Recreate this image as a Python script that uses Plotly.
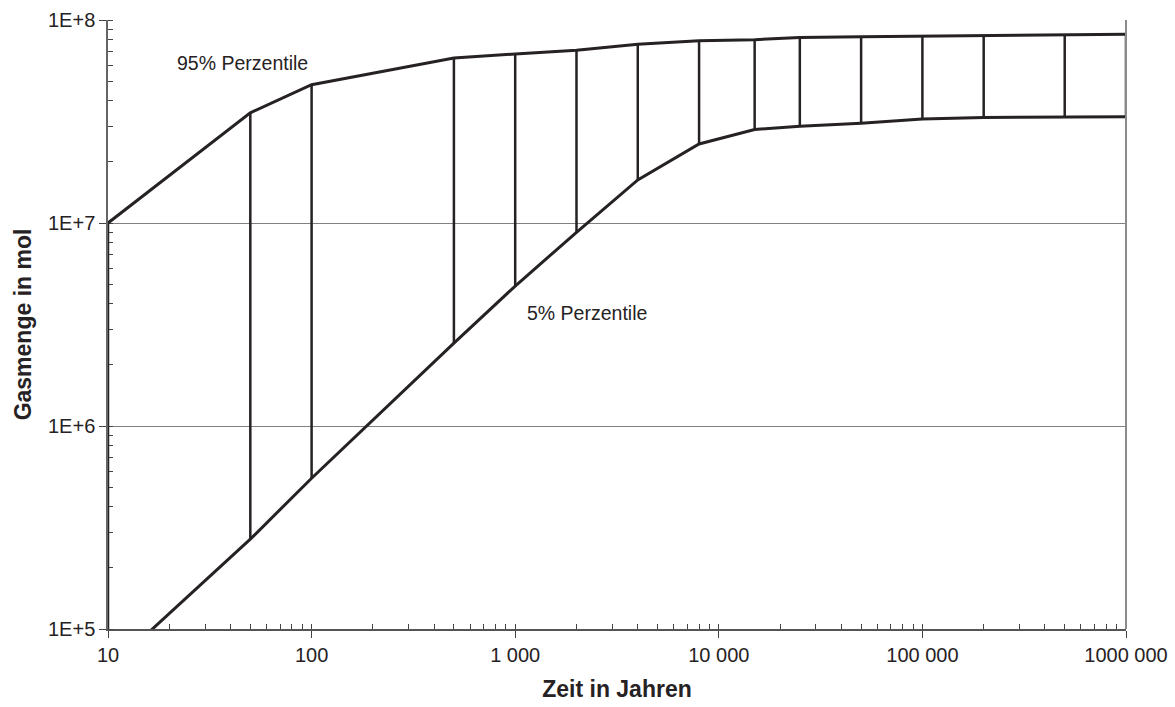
import plotly.graph_objects as go

# Zeit in Jahren
zeit = [10, 50, 100, 500, 1000, 2000, 4000, 8000, 15000, 25000, 50000,
        100000, 200000, 500000, 1000000]
# 95% Perzentile (mol)
p95 = [1.0e7, 3.49e7, 4.8e7, 6.5e7, 6.8e7, 7.1e7, 7.6e7, 7.9e7, 8.0e7,
       8.2e7, 8.28e7, 8.34e7, 8.4e7, 8.46e7, 8.5e7]
# 5% Perzentile (mol)
p5 = [6.3e4, 2.77e5, 5.53e5, 2.56e6, 4.89e6, 9.0e6, 1.63e7, 2.45e7, 2.89e7,
      3.0e7, 3.1e7, 3.25e7, 3.31e7, 3.34e7, 3.34e7]

x_tickvals = [10, 100, 1000, 10000, 100000, 1000000]
x_ticktext = ["10", "100", "1 000", "10 000", "100 000", "1000 000"]
y_tickvals = [1e5, 1e6, 1e7, 1e8]
y_ticktext = ["1E+5", "1E+6", "1E+7", "1E+8"]

INK = "#262223"
FONT = "Liberation Sans, Arial, Helvetica, sans-serif"

# vertical connectors between the percentiles
vx, vy = [], []
for x, lo, hi in zip(zeit, p5, p95):
    vx += [x, x, None]
    vy += [lo, hi, None]

fig = go.Figure()
fig.add_trace(go.Scatter(x=vx, y=vy, mode="lines",
                         line=dict(color=INK, width=2.5),
                         hoverinfo="skip", showlegend=False))
fig.add_trace(go.Scatter(x=zeit, y=p95, mode="lines", name="95% Perzentile",
                         line=dict(color=INK, width=3), showlegend=False))
fig.add_trace(go.Scatter(x=zeit, y=p5, mode="lines", name="5% Perzentile",
                         line=dict(color=INK, width=3), showlegend=False))

fig.add_annotation(x=1.6616, y=7.787, xref="x", yref="y", text="95% Perzentile",
                   showarrow=False, font=dict(size=19.5, color=INK, family=FONT))
fig.add_annotation(x=3.355, y=6.556, xref="x", yref="y", text="5% Perzentile",
                   showarrow=False, font=dict(size=19.5, color=INK, family=FONT))

# right frame line
fig.add_shape(type="line", xref="paper", yref="paper", x0=1, x1=1, y0=0, y1=1,
              line=dict(color="#8a8a8a", width=2))

fig.update_xaxes(
    type="log", range=[1, 6],
    tickvals=x_tickvals, ticktext=x_ticktext,
    ticks="outside", ticklen=7, tickwidth=1.2, tickcolor="#444",
    minor=dict(ticks="inside", ticklen=5, tickwidth=1.2, tickcolor="#444",
               dtick="D1", showgrid=False),
    showline=True, linecolor="#555", linewidth=2,
    showgrid=False, zeroline=False,
    tickfont=dict(size=20, color=INK, family=FONT),
    title=dict(text="<b>Zeit in Jahren</b>", font=dict(size=23, color=INK, family=FONT),
               standoff=16),
    layer="below traces",
)
fig.update_yaxes(
    type="log", range=[5, 8],
    tickvals=y_tickvals, ticktext=y_ticktext,
    ticks="outside", ticklen=7, tickwidth=1.2, tickcolor="#444",
    minor=dict(ticks="inside", ticklen=5, tickwidth=1.2, tickcolor="#444",
               dtick="D1", showgrid=False),
    showline=True, linecolor="#666", linewidth=1.5,
    showgrid=True, gridcolor="#808080", gridwidth=1, zeroline=False,
    tickfont=dict(size=20, color=INK, family=FONT),
    title=dict(text="<b>Gasmenge in mol</b>", font=dict(size=23, color=INK, family=FONT),
               standoff=10),
    layer="below traces",
)

fig.update_layout(
    width=1175, height=707,
    margin=dict(l=108, r=49, t=20, b=78, autoexpand=False),
    plot_bgcolor="white", paper_bgcolor="white",
    font=dict(family=FONT, color=INK),
)

fig.write_html("out.html")
